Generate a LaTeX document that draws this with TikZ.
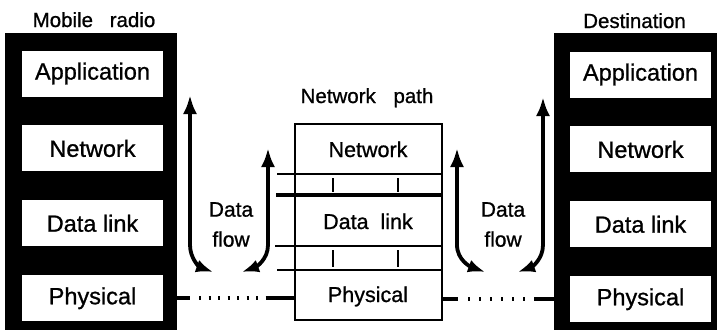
\documentclass[tikz,border=0pt]{standalone}
\usepackage{fontspec}
\setmainfont{Liberation Sans}[BoldFont=Liberation Sans, BoldFeatures={FakeBold=0.9}]
\usetikzlibrary{arrows.meta,positioning}

\begin{document}
\begin{tikzpicture}[
      x=1pt, y=-1pt,
      frame/.style={fill=black, draw=none, minimum height=297pt, inner sep=0pt},
      layer/.style={fill=white, minimum width=141pt, minimum height=46pt,
        inner sep=0pt, font=\fontsize{23.5}{28}\selectfont\bfseries},
      midlbl/.style={font=\fontsize{21.5}{26}\selectfont\bfseries, inner sep=0pt, anchor=base},
      title/.style={font=\fontsize{20.5}{24}\selectfont\bfseries, inner sep=0pt, anchor=base},
      flowlbl/.style={font=\fontsize{21}{30}\selectfont\bfseries, align=center, inner sep=0pt, anchor=north},
      flow/.style={{Latex[length=19pt,width=14pt]}-{Latex[length=17pt,width=13pt]}, line width=3.8pt},
      sep/.style={line width=2pt},
      tick/.style={line width=1.3pt},
      link/.style={line width=4pt}
    ]
      \useasboundingbox (0,0) rectangle (717,330);

      % end systems
      \node[frame, minimum width=172pt] (lframe) at (91,181.5) {};
      \node[frame, minimum width=163pt] (rframe) at (635.5,181.5) {};
      \node[title] (ltitle) at (94,27) {Mobile\hspace{11pt} radio};
      \node[title] (rtitle) at (634.5,28) {Destination};

      \node[layer] (lapp) at (92.5,73.5) {Application};
      \node[layer, below=28.5pt of lapp] (lnet) {Network};
      \node[layer, below=28.5pt of lnet] (ldl) {Data link};
      \node[layer, below=28.5pt of ldl] (lphy) {Physical};

      \node[layer] (rapp) at (640.5,74.5) {Application};
      \node[layer, below=28.5pt of rapp] (rnet) {Network};
      \node[layer, below=28.5pt of rnet] (rdl) {Data link};
      \node[layer, below=28.5pt of rdl] (rphy) {Physical};

      % network path
      \node[draw, line width=2pt, minimum width=147pt, minimum height=196pt, inner sep=0pt] (mid) at (368.5,222) {};
      \node[title] (mtitle) at (367,103) {Network\hspace{12pt} path};
      \node[midlbl] (mnet) at (368,157) {Network};
      \node[midlbl] (mdl) at (368,229) {Data\hspace{6pt} link};
      \node[midlbl] (mphy) at (368,302) {Physical};

      \draw[sep] (277,174) -- (mid.east |- 0,174);
      \draw[sep, line width=4pt] (276,195) -- (mid.east |- 0,195);
      \draw[sep, line width=2.5pt] (275,246) -- (mid.east |- 0,246);
      \draw[sep] (277,270) -- (mid.east |- 0,270);
      \foreach \x in {333,398} {
        \draw[tick] (\x,178) -- (\x,192);
        \draw[tick] (\x,250) -- (\x,267);
      }

      % physical links
      \draw[link, dash pattern=on 13pt off 9pt on 2pt off 7.5pt on 2pt off 7.5pt on 2pt off 7.5pt
        on 2pt off 7.5pt on 2pt off 7.5pt on 2pt off 7.5pt on 2pt off 7.5pt on 40pt]
        (lframe.east |- lphy) -- (mid.west |- lphy);
      \draw[link, dash pattern=on 15pt off 10pt on 2pt off 9pt on 2pt off 9pt on 2pt off 9pt
        on 2pt off 9pt on 2pt off 9pt on 2pt off 9pt on 40pt]
        (mid.east |- rphy) -- (rframe.west |- rphy);

      % data flow
      \coordinate (f1top) at (190,95);  \coordinate (f1end) at (213,272);
      \coordinate (f2top) at (268,148); \coordinate (f2end) at (242,272);
      \coordinate (f3top) at (457,148); \coordinate (f3end) at (485,272);
      \coordinate (f4top) at (543,97);  \coordinate (f4end) at (518,272);

      \draw[flow] (f1top) -- (f1top |- 0,245) to[out=-90, in=160] (f1end);
      \draw[flow] (f2top) -- (f2top |- 0,245) to[out=-90, in=20] (f2end);
      \draw[flow] (f3top) -- (f3top |- 0,245) to[out=-90, in=160] (f3end);
      \draw[flow] (f4top) -- (f4top |- 0,245) to[out=-90, in=20] (f4end);

      \node[flowlbl] (lflow) at (231,202) {Data\\flow};
      \node[flowlbl] (rflow) at (503,202) {Data\\flow};
    \end{tikzpicture}
\end{document}
